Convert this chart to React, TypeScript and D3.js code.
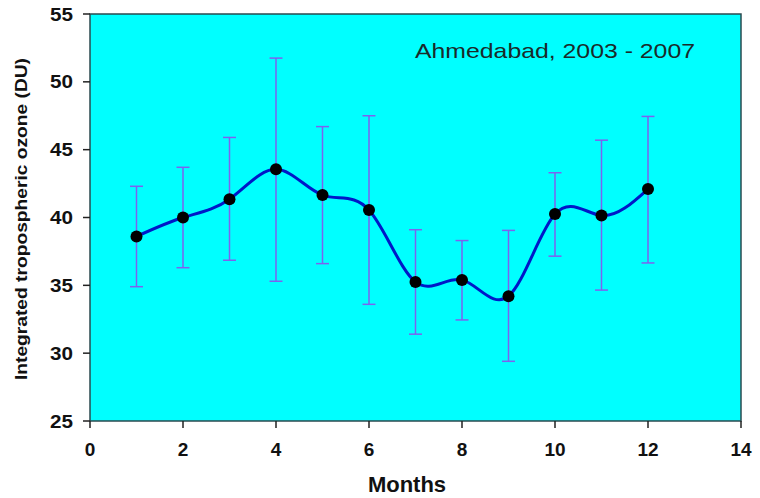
import React from 'react';
import * as d3 from 'd3';

const months = [1, 2, 3, 4, 5, 6, 7, 8, 9, 10, 11, 12];
const ozone = [38.6, 40.0, 41.35, 43.55, 41.65, 40.55, 35.25, 35.4, 34.2, 40.25, 40.15, 42.1];
const errHigh = [42.3, 43.7, 45.9, 51.75, 46.7, 47.5, 39.1, 38.3, 39.05, 43.3, 45.7, 47.45];
const errLow = [34.9, 36.3, 36.85, 35.3, 36.6, 33.6, 31.4, 32.45, 29.4, 37.15, 34.65, 36.65];
const xTicks = [0, 2, 4, 6, 8, 10, 12, 14];
const yTicks = [25, 30, 35, 40, 45, 50, 55];

const W = 760;
const H = 498;
const margin = { left: 90, top: 14, right: 19, bottom: 77 };
const font = '"Liberation Sans", Arial, sans-serif';

const App: React.FC = () => {
  const x = d3.scaleLinear().domain([0, 14]).range([margin.left, W - margin.right]);
  const y = d3.scaleLinear().domain([25, 55]).range([H - margin.bottom, margin.top]);

  const pts = months.map((m, i) => ({ m, v: ozone[i], hi: errHigh[i], lo: errLow[i] }));

  const line = d3.line<{ m: number; v: number }>()
    .x((d) => x(d.m))
    .y((d) => y(d.v))
    .curve(d3.curveNatural);

  const x0 = x(0), x1 = x(14), y0 = y(25), y1 = y(55);
  const cap = 6.5;

  return (
    <svg width={W} height={H} style={{ position: 'absolute', left: 0, top: 0, background: '#fff' }}>
      <rect x={x0} y={y1} width={x1 - x0} height={y0 - y1} fill="#00ffff" stroke="#2b4a4f" strokeWidth={1.5} />

      {/* error bars */}
      <g stroke="#7d62ee" strokeWidth={1.5}>
        {pts.map((d) => (
          <g key={d.m}>
            <line x1={x(d.m)} x2={x(d.m)} y1={y(d.hi)} y2={y(d.lo)} />
            <line x1={x(d.m) - cap} x2={x(d.m) + cap} y1={y(d.hi)} y2={y(d.hi)} />
            <line x1={x(d.m) - cap} x2={x(d.m) + cap} y1={y(d.lo)} y2={y(d.lo)} />
          </g>
        ))}
      </g>

      <path d={line(pts) || ''} fill="none" stroke="#0018c8" strokeWidth={3} />

      {pts.map((d) => (
        <circle key={d.m} cx={x(d.m)} cy={y(d.v)} r={6} fill="#000" />
      ))}

      {/* axes */}
      <g fontFamily={font} fontWeight="bold" fontSize={19} fill="#111">
        {yTicks.map((t) => (
          <g key={t}>
            <line x1={x0 - 7} x2={x0} y1={y(t)} y2={y(t)} stroke="#222" strokeWidth={1.5} />
            <text x={x0 - 17} y={y(t)} dy="0.35em" textAnchor="end" textLength={23} lengthAdjust="spacingAndGlyphs">{t}</text>
          </g>
        ))}
        {xTicks.map((t) => (
          <g key={t}>
            <line x1={x(t)} x2={x(t)} y1={y0} y2={y0 + 7} stroke="#222" strokeWidth={1.5} />
            <text x={x(t)} y={456} textAnchor="middle">{t}</text>
          </g>
        ))}
      </g>

      <text x={407} y={492} textAnchor="middle" fontFamily={font} fontWeight="bold" fontSize={22} fill="#111">
        Months
      </text>
      <text
        transform="translate(27,219) rotate(-90)"
        textAnchor="middle"
        fontFamily={font}
        fontWeight="bold"
        fontSize={17}
        fill="#111"
        textLength={322}
        lengthAdjust="spacingAndGlyphs"
      >
        Integrated tropospheric ozone (DU)
      </text>
      <text x={415} y={58} fontFamily={font} fontSize={21} fill="#1a2a2a" textLength={280} lengthAdjust="spacingAndGlyphs">
        Ahmedabad, 2003 - 2007
      </text>
    </svg>
  );
};

export default App;
